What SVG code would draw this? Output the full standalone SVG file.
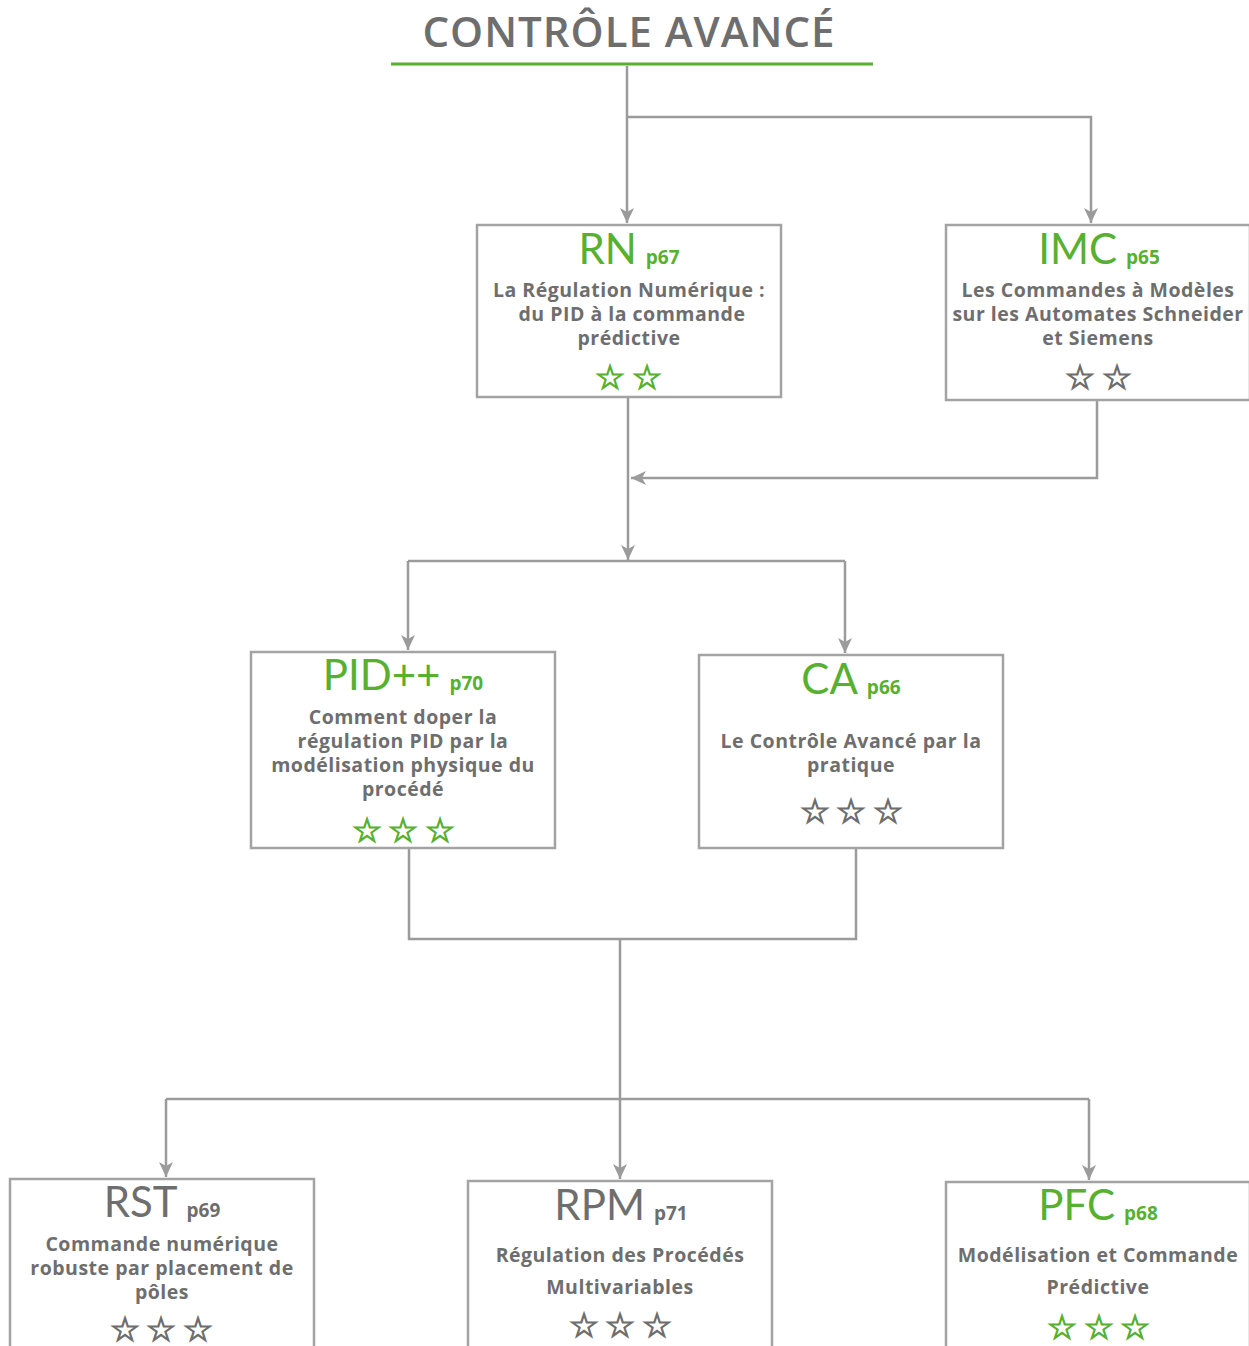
<svg xmlns="http://www.w3.org/2000/svg" width="1249" height="1346" viewBox="0 0 1249 1346">
<style>
.box{fill:#fff;stroke:#a3a3a3;stroke-width:2.5}
.con{fill:none;stroke:#9b9b9b;stroke-width:2.5}
.big{font-family:Lato,"Open Sans","Liberation Sans",sans-serif;font-weight:400;font-size:42px}
.pg{font-family:"Open Sans","Liberation Sans",sans-serif;font-weight:700;font-size:19px}
.body{font-family:"Open Sans","Liberation Sans",sans-serif;font-weight:700;font-size:19.5px;letter-spacing:0.5px;fill:#6e6e6e;text-anchor:middle}
.green{fill:#57b030}
.gray{fill:#6e6e6e}
.star{font-family:"DejaVu Sans",sans-serif;font-size:34px;text-anchor:middle;stroke-width:1.1px}
.star.green{stroke:#57b030}
.star.gray{stroke:#6e6e6e}
.title{font-family:"Open Sans","Liberation Sans",sans-serif;font-weight:600;font-size:42px;letter-spacing:1px;fill:#6e6e6e;text-anchor:middle}
</style>
<defs>
<marker id="arr" markerUnits="userSpaceOnUse" markerWidth="16" markerHeight="14" refX="15" refY="7" orient="auto">
<path d="M0,0 L15,7 L0,14 L4,7 Z" fill="#9b9b9b"/>
</marker>
</defs>
<rect width="1249" height="1346" fill="#fff"/>
<g id="title">
<text class="title" x="629" y="47">CONTRÔLE AVANCÉ</text>
<line x1="391" y1="64" x2="873" y2="64" stroke="#57b030" stroke-width="3"/>
</g>
<g id="connectors">
<path class="con" d="M627,66 V223" marker-end="url(#arr)"/>
<path class="con" d="M627,117 H1091 V223" marker-end="url(#arr)"/>
<path class="con" d="M628,398 V560" marker-end="url(#arr)"/>
<path class="con" d="M1097,401 V478 H631" marker-end="url(#arr)"/>
<path class="con" d="M408,561 H845"/>
<path class="con" d="M408,561 V650" marker-end="url(#arr)"/>
<path class="con" d="M845,561 V653" marker-end="url(#arr)"/>
<path class="con" d="M409,849 V939 H856 V849"/>
<path class="con" d="M620,939 V1179" marker-end="url(#arr)"/>
<path class="con" d="M166,1099 H1089"/>
<path class="con" d="M166,1099 V1177" marker-end="url(#arr)"/>
<path class="con" d="M1089,1099 V1180" marker-end="url(#arr)"/>
</g>
<g id="RN">
<rect class="box" x="477" y="225" width="304" height="172"/>
<text x="629" y="264" text-anchor="middle"><tspan class="big green">RN</tspan><tspan class="pg green" dx="9">p67</tspan></text>
<text class="body" x="629" y="297">La Régulation Numérique :</text>
<text class="body" x="632" y="321">du PID à la commande</text>
<text class="body" x="629" y="345">prédictive</text>
<text class="star green" x="610" y="389">☆</text>
<text class="star green" x="647" y="389">☆</text>
</g>
<g id="IMC">
<rect class="box" x="946" y="225" width="304" height="175"/>
<text x="1099" y="264" text-anchor="middle"><tspan class="big green">IMC</tspan><tspan class="pg green" dx="9">p65</tspan></text>
<text class="body" x="1098" y="297">Les Commandes à Modèles</text>
<text class="body" x="1098" y="321">sur les Automates Schneider</text>
<text class="body" x="1098" y="345">et Siemens</text>
<text class="star gray" x="1080" y="389">☆</text>
<text class="star gray" x="1117" y="389">☆</text>
</g>
<g id="PID">
<rect class="box" x="251" y="652" width="304" height="196"/>
<text x="403" y="690" text-anchor="middle"><tspan class="big green">PID++</tspan><tspan class="pg green" dx="9">p70</tspan></text>
<text class="body" x="403" y="724">Comment doper la</text>
<text class="body" x="403" y="748">régulation PID par la</text>
<text class="body" x="403" y="772">modélisation physique du</text>
<text class="body" x="403" y="796">procédé</text>
<text class="star green" x="367" y="842">☆</text>
<text class="star green" x="403" y="842">☆</text>
<text class="star green" x="440" y="842">☆</text>
</g>
<g id="CA">
<rect class="box" x="699" y="655" width="304" height="193"/>
<text x="851" y="694" text-anchor="middle"><tspan class="big green">CA</tspan><tspan class="pg green" dx="9">p66</tspan></text>
<text class="body" x="851" y="748">Le Contrôle Avancé par la</text>
<text class="body" x="851" y="772">pratique</text>
<text class="star gray" x="815" y="823">☆</text>
<text class="star gray" x="851" y="823">☆</text>
<text class="star gray" x="888" y="823">☆</text>
</g>
<g id="RST">
<rect class="box" x="10" y="1179" width="304" height="180"/>
<text x="162" y="1217" text-anchor="middle"><tspan class="big gray">RST</tspan><tspan class="pg gray" dx="9">p69</tspan></text>
<text class="body" x="162" y="1251">Commande numérique</text>
<text class="body" x="162" y="1275">robuste par placement de</text>
<text class="body" x="162" y="1299">pôles</text>
<text class="star gray" x="125" y="1341">☆</text>
<text class="star gray" x="161" y="1341">☆</text>
<text class="star gray" x="198" y="1341">☆</text>
</g>
<g id="RPM">
<rect class="box" x="468" y="1181" width="304" height="180"/>
<text x="621" y="1220" text-anchor="middle"><tspan class="big gray">RPM</tspan><tspan class="pg gray" dx="9">p71</tspan></text>
<text class="body" x="620" y="1262">Régulation des Procédés</text>
<text class="body" x="620" y="1294">Multivariables</text>
<text class="star gray" x="584" y="1337">☆</text>
<text class="star gray" x="620" y="1337">☆</text>
<text class="star gray" x="657" y="1337">☆</text>
</g>
<g id="PFC">
<rect class="box" x="946" y="1182" width="304" height="180"/>
<text x="1098" y="1220" text-anchor="middle"><tspan class="big green">PFC</tspan><tspan class="pg green" dx="9">p68</tspan></text>
<text class="body" x="1098" y="1262">Modélisation et Commande</text>
<text class="body" x="1098" y="1294">Prédictive</text>
<text class="star green" x="1062" y="1339">☆</text>
<text class="star green" x="1099" y="1339">☆</text>
<text class="star green" x="1135" y="1339">☆</text>
</g>
</svg>
